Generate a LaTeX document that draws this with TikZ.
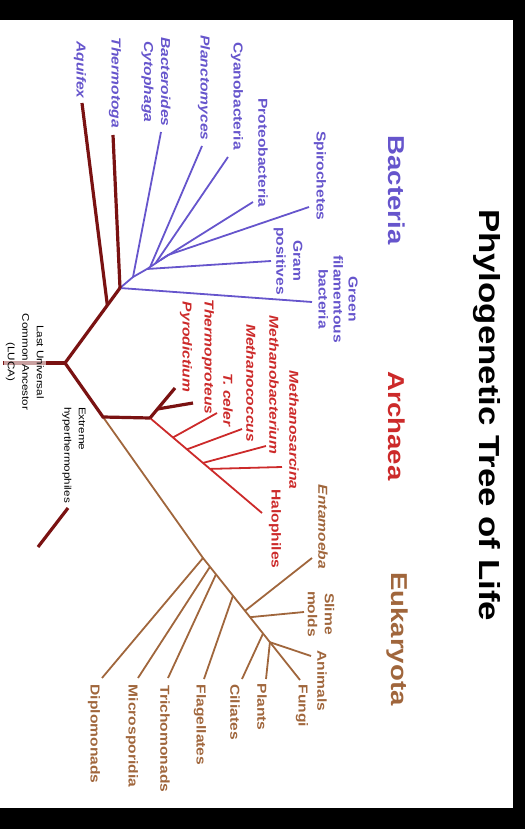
\documentclass[tikz,border=0pt]{standalone}
\usepackage{fontspec}
\usepackage{tikz}
\usetikzlibrary{calc}
\newfontfamily\treefont[FakeStretch=1.2]{Liberation Sans}
\definecolor{treeBlue}{HTML}{6655CC}
\definecolor{treeRed}{HTML}{CC2A2A}
\definecolor{treeMaroon}{HTML}{7A1212}
\definecolor{treeBrown}{HTML}{A0663C}
\newcommand{\taxfont}{\treefont\fontsize{13}{17}\selectfont\bfseries}
\newcommand{\notefont}{\treefont\fontsize{9.7}{14.5}\selectfont}

\begin{document}
\begin{tikzpicture}[x=1pt, y=-1pt,
  tax/.style={rotate=-90, align=center, inner sep=1pt, font=\taxfont},
  itax/.style={tax, font=\taxfont\itshape},
  dom/.style={rotate=-90, inner sep=1pt, font=\treefont\fontsize{23}{27}\selectfont\bfseries},
  note/.style={rotate=-90, inner sep=2pt, font=\notefont},
  hyp/.style={draw=treeMaroon, line width=3.2pt},
  bl/.style={draw=treeBlue, line width=1.8pt},
  rl/.style={draw=treeRed, line width=1.8pt},
  el/.style={draw=treeBrown, line width=1.8pt}
]
\useasboundingbox (0,0) rectangle (525,829);
\fill[black] (0,0) rectangle (525,20);
\fill[black] (0,808) rectangle (525,829);
\fill[black] (513,0) rectangle (525,829);

% main forks
\coordinate (luca0) at (3,363);
\coordinate (root) at (65,363);
\coordinate (bac) at (120,288);
\coordinate (ae) at (103,417);
\coordinate (arc) at (150,418);
\coordinate (aqf) at ($(root)!0.77!(bac)$);
\coordinate (aqtip) at (82,103);
\coordinate (thtip) at (113,135);

% bacteria
\coordinate (b1) at (133,277);
\coordinate (b2) at (147,269);
\coordinate (b6) at (168,255);
\coordinate (b3) at ($(b2)!0.15!(b6)$);
\coordinate (b4) at ($(b2)!0.4!(b6)$);
\coordinate (b5) at ($(b2)!0.65!(b6)$);
\coordinate (gftip) at (312,302);
\coordinate (bctip) at (161,132);
\coordinate (gptip) at (271,261);
\coordinate (pltip) at (202,146);
\coordinate (cytip) at (228,157);
\coordinate (prtip) at (253,202);
\coordinate (sptip) at (309,207);

\draw[bl] (bac) -- (gftip);
\draw[bl] (bac) -- (b1) -- (b2) -- (b6) -- (sptip);
\draw[bl] (b1) -- (bctip);
\draw[bl] (b2) -- (gptip);
\draw[bl] (b3) -- (pltip);
\draw[bl] (b4) -- (cytip);
\draw[bl] (b5) -- (prtip);

% archaea
\coordinate (hatip) at (262,513);
\coordinate (a1) at ($(arc)!0.205!(hatip)$);
\coordinate (a2) at ($(arc)!0.33!(hatip)$);
\coordinate (a3) at ($(arc)!0.473!(hatip)$);
\coordinate (a4) at ($(arc)!0.536!(hatip)$);
\coordinate (tctip) at (217,413);
\coordinate (mctip) at (242,429);
\coordinate (mbtip) at (266,446);
\coordinate (mstip) at (282,467);
\coordinate (pytip) at (175,388);
\coordinate (tp) at ($(arc)!0.3!(pytip)$);
\coordinate (tptip) at (193,403);

\draw[rl] (arc) -- (hatip);
\draw[rl] (a1) -- (tctip);
\draw[rl] (a2) -- (mctip);
\draw[rl] (a3) -- (mbtip);
\draw[rl] (a4) -- (mstip);

% eukaryota
\coordinate (e1) at (203,558);
\coordinate (futip) at (300,680);
\coordinate (e2) at ($(e1)!0.072!(futip)$);
\coordinate (e3) at ($(e1)!0.134!(futip)$);
\coordinate (e4) at ($(e1)!0.309!(futip)$);
\coordinate (e5) at ($(e1)!0.433!(futip)$);
\coordinate (e6) at ($(e1)!0.485!(futip)$);
\coordinate (e7) at ($(e1)!0.619!(futip)$);
\coordinate (e8) at ($(e1)!0.69!(futip)$);
\coordinate (dptip) at (102,678);
\coordinate (mitip) at (138,678);
\coordinate (trtip) at (168,678);
\coordinate (fltip) at (204,679);
\coordinate (entip) at (312,558);
\coordinate (smtip) at (304,612);
\coordinate (citip) at (242,679);
\coordinate (pntip) at (266,679);
\coordinate (antip) at (311,656);

\draw[el] (ae) -- (e1) -- (futip);
\draw[el] (e1) -- (dptip);
\draw[el] (e2) -- (mitip);
\draw[el] (e3) -- (trtip);
\draw[el] (e4) -- (fltip);
\draw[el] (e5) -- (entip);
\draw[el] (e6) -- (smtip);
\draw[el] (e7) -- (citip);
\draw[el] (e8) -- (pntip);
\draw[el] (e8) -- (antip);

% hyperthermophile stem
\draw[hyp] (luca0) -- (root);
\draw[hyp] (root) -- (bac);
\draw[hyp] (aqf) -- (aqtip);
\draw[hyp] (bac) -- (thtip);
\draw[hyp] (root) -- (ae) -- (arc);
\draw[hyp] (arc) -- (pytip);
\draw[hyp] (tp) -- (tptip);
\coordinate (xh1) at (68,508);
\coordinate (xh2) at (38,547);
\draw[hyp] (xh1) -- (xh2);

% labels
\node[rotate=-90, font=\treefont\fontsize{29}{34}\selectfont\bfseries] (title) at (487,415) {Phylogenetic Tree of Life};
\node[dom, text=treeBlue] (dbac) at (397,190) {Bacteria};
\node[dom, text=treeRed] (darc) at (397,426) {Archaea};
\node[dom, text=treeBrown] (deuk) at (397,639) {Eukaryota};

\node[note, align=center, fill=white, fill opacity=0.6, text opacity=1] (luca) at (25,362)
  {Last Universal\\Common Ancestor\\(LUCA)};
\node[note, align=left] (xhyp) at (74,455) {Extreme\\hyperthermophiles};

\node[itax, text=treeBlue] (aq) at (80,70) {Aquifex};
\node[itax, text=treeBlue] (th) at (115,83) {Thermotoga};
\node[itax, text=treeBlue] (bc) at (156,82) {Bacteroides\\Cytophaga};
\node[itax, text=treeBlue] (pl) at (204,88) {Planctomyces};
\node[tax, text=treeBlue] (cy) at (237,96) {Cyanobacteria};
\node[tax, text=treeBlue] (pr) at (263,153) {Proteobacteria};
\node[tax, text=treeBlue] (sp) at (320,176) {Spirochetes};
\node[tax, text=treeBlue] (gp) at (288,261) {Gram\\positives};
\node[tax, text=treeBlue, font=\treefont\fontsize{13}{15}\selectfont\bfseries] (gf) at (338,299) {Green\\filamentous\\bacteria};

\node[itax, text=treeRed] (py) at (186,347) {Pyrodictium};
\node[itax, text=treeRed] (tpr) at (208,357) {Thermoproteus};
\node[itax, text=treeRed] (tc) at (228,400) {T. celer};
\node[itax, text=treeRed] (mc) at (251,383) {Methanococcus};
\node[itax, text=treeRed] (mb) at (274,385) {Methanobacterium};
\node[itax, text=treeRed] (ms) at (294,430) {Methanosarcina};
\node[tax, text=treeRed] (ha) at (275,529) {Halophiles};

\node[itax, text=treeBrown] (en) at (323,527) {Entamoeba};
\node[tax, text=treeBrown] (sm) at (321,614) {Slime\\molds};
\node[tax, text=treeBrown] (an) at (322,681) {Animals};
\node[tax, text=treeBrown] (fu) at (302,706) {Fungi};
\node[tax, text=treeBrown] (pn) at (262,707) {Plants};
\node[tax, text=treeBrown] (ci) at (235,712) {Ciliates};
\node[tax, text=treeBrown] (fl) at (200,725) {Flagellates};
\node[tax, text=treeBrown] (tr) at (165,739) {Trichomonads};
\node[tax, text=treeBrown] (mi) at (132,736) {Microsporidia};
\node[tax, text=treeBrown] (dp) at (94,734) {Diplomonads};
\end{tikzpicture}
\end{document}
